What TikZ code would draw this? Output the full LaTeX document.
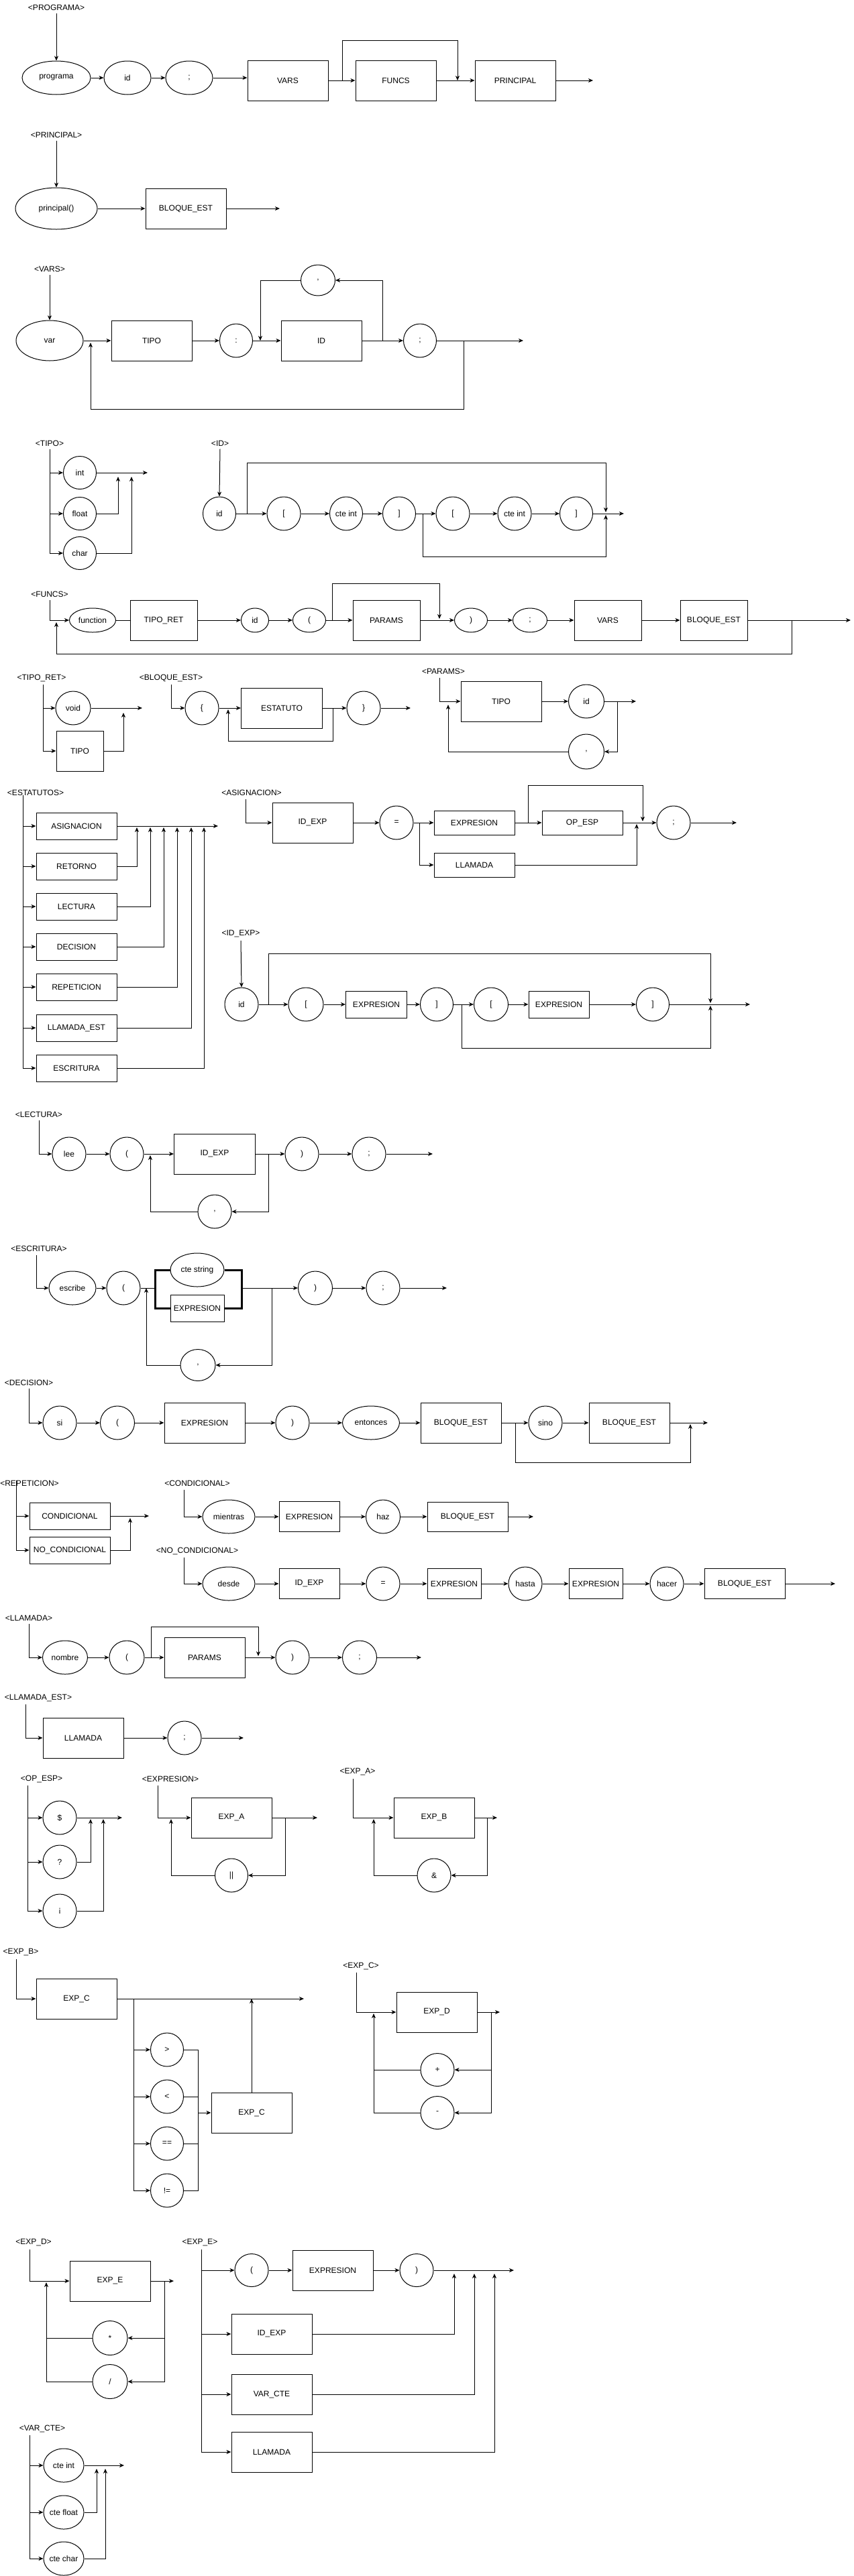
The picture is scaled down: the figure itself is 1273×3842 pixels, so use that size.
\documentclass[tikz,border=0pt]{standalone}
\usepackage{fontspec}
\setmainfont{Liberation Sans}
\usetikzlibrary{arrows.meta,shapes.geometric}
\begin{document}
\begin{tikzpicture}[x=1pt,y=-1pt,
  every node/.style={font=\fontsize{12}{14}\selectfont},
  line width=1pt,
  ell/.style={draw,ellipse,inner sep=-3pt,minimum width=50pt,minimum height=50pt},
  box/.style={draw,rectangle,inner sep=0pt,minimum width=120pt,minimum height=60pt},
  lbl/.style={inner xsep=0pt,inner ysep=4pt},
  arr/.style={-{Stealth[length=7pt,width=6pt,inset=2pt]}},
  brk/.style={line width=3pt}]
\fill[white] (0,0) rectangle (1273,3842);
\useasboundingbox (0,0) rectangle (1273,3842);

% ---------------- PROGRAMA
\node[lbl] (lProg) at (84,11) {<PROGRAMA>};
\node[ell,minimum width=102pt] (prog) at (84,116) {programa};
\node[ell,minimum width=70pt] (pid) at (190,116) {id};
\node[ell,minimum width=70pt] (psemi) at (282,116) {;};
\node[box] (pvars) at (429,120) {VARS};
\node[box] (pfuncs) at (590,120) {FUNCS};
\node[box] (pprin) at (768,120) {PRINCIPAL};
\coordinate (pend) at (884,120);
\coordinate (pb0) at (510,120);
\coordinate (pb1) at (682,120);
\draw[arr] (lProg.south) -- (prog.north);
\draw[arr] (prog) -- (pid);
\draw[arr] (pid) -- (psemi);
\draw[arr] (psemi.east) -- (pvars.west |- psemi.east);
\draw[arr] (pvars) -- (pfuncs);
\draw[arr] (pfuncs) -- (pprin);
\draw[arr] (pprin) -- (pend);
\draw[arr] (pb0) -- ++(0,-60) -| (pb1);

% ---------------- PRINCIPAL
\node[lbl] (lPrin) at (84,201) {<PRINCIPAL>};
\node[ell,minimum width=122pt,minimum height=62pt] (prn) at (84,311) {principal()};
\node[box] (prnb) at (277,311) {BLOQUE\_EST};
\coordinate (prnend) at (417,311);
\draw[arr] (lPrin.south) -- (prn.north);
\draw[arr] (prn) -- (prnb);
\draw[arr] (prnb) -- (prnend);

% ---------------- VARS
\node[lbl] (lVars) at (74,401) {<VARS>};
\node[ell,minimum width=100pt,minimum height=60pt] (vvar) at (74,508) {var};
\node[box] (vtipo) at (226,508) {TIPO};
\node[ell,minimum width=49pt] (vcolon) at (352,508) {:};
\node[box] (vid) at (479,508) {ID};
\node[ell,minimum width=49pt] (vsemi) at (626,508) {;};
\node[ell,minimum width=51pt,minimum height=46pt] (vcomma) at (474,418) {,};
\coordinate (vend) at (780,508);
\coordinate (vc1) at (570,508);
\coordinate (vc2) at (388,508);
\coordinate (vb1) at (691,508);
\coordinate (vb2) at (135,511);
\draw[arr] (lVars.south) -- (vvar.north);
\draw[arr] (vvar) -- (vtipo);
\draw[arr] (vtipo) -- (vcolon);
\draw[arr] (vcolon) -- (vid);
\draw[arr] (vid) -- (vsemi);
\draw[arr] (vsemi) -- (vend);
\draw[arr] (vc1) |- (vcomma.east);
\draw[arr] (vcomma.west) -| (vc2);
\draw[arr] (vb1) -- ++(0,102) -| (vb2);

% ---------------- TIPO
\node[lbl] (lTipo) at (74,661) {<TIPO>};
\node[ell,minimum width=49pt,minimum height=49pt] (tint) at (119,705) {int};
\node[ell,minimum width=49pt,minimum height=49pt] (tfloat) at (119,766) {float};
\node[ell,minimum width=49pt,minimum height=49pt] (tchar) at (119,825) {char};
\coordinate (tend) at (220,705);
\coordinate (tj1) at (176,711);
\coordinate (tj2) at (196,711);
\draw[arr] (lTipo.south) |- (tchar.west);
\draw[arr] (lTipo.south |- tint.west) -- (tint.west);
\draw[arr] (lTipo.south |- tfloat.west) -- (tfloat.west);
\draw[arr] (tint) -- (tend);
\draw[arr] (tfloat.east) -| (tj1);
\draw[arr] (tchar.east) -| (tj2);

% ---------------- ID
\node[lbl] (lId) at (328,661) {<ID>};
\node[ell,minimum width=49pt] (iid) at (327,766) {id};
\node[ell,minimum width=50pt] (ib1) at (423,766) {[};
\node[ell,minimum width=49pt] (ic1) at (516,766) {cte int};
\node[ell,minimum width=49pt] (ir1) at (595,766) {]};
\node[ell,minimum width=50pt] (ib2) at (675,766) {[};
\node[ell,minimum width=50pt] (ic2) at (767,766) {cte int};
\node[ell,minimum width=49pt] (ir2) at (859,766) {]};
\coordinate (iend) at (930,766);
\coordinate (ijt) at (903,764);
\coordinate (ijb) at (903,768);
\coordinate (it0) at (368,766);
\coordinate (ibt0) at (630,766);
\draw[arr] (lId.south) -- (iid.north);
\draw[arr] (iid) -- (ib1);
\draw[arr] (ib1) -- (ic1);
\draw[arr] (ic1) -- (ir1);
\draw[arr] (ir1) -- (ib2);
\draw[arr] (ib2) -- (ic2);
\draw[arr] (ic2) -- (ir2);
\draw[arr] (ir2) -- (iend);
\draw[arr] (it0) -- ++(0,-76) -| (ijt);
\draw[arr] (ibt0) -- ++(0,64) -| (ijb);

% ---------------- FUNCS
\node[lbl] (lFuncs) at (74,886) {<FUNCS>};
\node[ell,minimum width=69pt,minimum height=36pt] (ffun) at (138,925) {function};
\node[box,minimum width=100pt] (ftr) at (244,925) {TIPO\_RET};
\node[ell,minimum width=41pt,minimum height=36pt] (fid) at (380,925) {id};
\node[ell,minimum width=49pt,minimum height=36pt] (fop) at (461,925) {(};
\node[box,minimum width=100pt] (fpar) at (576,925) {PARAMS};
\node[ell,minimum width=49pt,minimum height=36pt] (fcp) at (702,925) {)};
\node[ell,minimum width=51pt,minimum height=36pt] (fsemi) at (790,925) {;};
\node[box,minimum width=100pt] (fvars) at (906,925) {VARS};
\node[box,minimum width=100pt] (fbloq) at (1064,925) {BLOQUE\_EST};
\coordinate (fend) at (1268,925);
\coordinate (fb0) at (495,925);
\coordinate (fb1) at (655,923);
\coordinate (fl0) at (1180,925);
\coordinate (fl1) at (84,928);
\draw[arr] (lFuncs.south) |- (ffun.west);
\draw (ffun) -- (ftr);
\draw[arr] (ftr) -- (fid);
\draw[arr] (fid) -- (fop);
\draw[arr] (fop) -- (fpar);
\draw[arr] (fpar) -- (fcp);
\draw[arr] (fcp) -- (fsemi);
\draw[arr] (fsemi) -- (fvars);
\draw[arr] (fvars) -- (fbloq);
\draw[arr] (fbloq) -- (fend);
\draw[arr] (fb0) -- ++(0,-55) -| (fb1);
\draw[arr] (fl0) -- ++(0,50) -| (fl1);

% ---------------- TIPO_RET
\node[lbl] (lTR) at (62,1011) {<TIPO\_RET>};
\node[ell,minimum width=52pt] (trvoid) at (109,1056) {void};
\node[box,minimum width=70pt] (trtipo) at (119,1120) {TIPO};
\coordinate (tr0) at (64,1021);
\coordinate (trend) at (212,1056);
\coordinate (trj) at (184,1063);
\draw[arr] (tr0) |- (trtipo.west);
\draw[arr] (tr0 |- trvoid.west) -- (trvoid.west);
\draw[arr] (trvoid) -- (trend);
\draw[arr] (trtipo.east) -| (trj);

% ---------------- BLOQUE_EST
\node[lbl] (lBE) at (255,1011) {<BLOQUE\_EST>};
\node[ell] (beo) at (301,1056) {\{};
\node[box,minimum width=121pt] (best) at (420,1056) {ESTATUTO};
\node[ell] (bec) at (542,1056) {\}};
\coordinate (beend) at (612,1056);
\coordinate (bel0) at (496,1056);
\coordinate (bel1) at (340,1058);
\draw[arr] (lBE.south) |- (beo.west);
\draw[arr] (beo) -- (best);
\draw[arr] (best) -- (bec);
\draw[arr] (bec) -- (beend);
\draw[arr] (bel0) -- ++(0,49) -| (bel1);

% ---------------- PARAMS
\node[lbl] (lPar) at (661,1001) {<PARAMS>};
\node[box] (ptipo) at (747,1046) {TIPO};
\node[ell,minimum width=53pt] (pid2) at (874,1046) {id};
\node[ell,minimum width=53pt,minimum height=52pt] (pcomma) at (874,1121) {,};
\coordinate (par0) at (655,1011);
\coordinate (pend2) at (948,1046);
\coordinate (pl0) at (920,1046);
\coordinate (pl1) at (668,1051);
\draw[arr] (par0) |- (ptipo.west);
\draw[arr] (ptipo) -- (pid2);
\draw[arr] (pid2) -- (pend2);
\draw[arr] (pl0) |- (pcomma.east);
\draw[arr] (pcomma.west) -| (pl1);

% ---------------- ESTATUTOS
\node[lbl] (lEst) at (53,1182) {<ESTATUTOS>};
\node[box,minimum height=40pt] (eAsig) at (114,1232) {ASIGNACION};
\node[box,minimum height=40pt] (eRet) at (114,1292) {RETORNO};
\node[box,minimum height=40pt] (eLec) at (114,1352) {LECTURA};
\node[box,minimum height=40pt] (eDec) at (114,1412) {DECISION};
\node[box,minimum height=40pt] (eRep) at (114,1472) {REPETICION};
\node[box,minimum height=40pt] (eLla) at (114,1533) {LLAMADA\_EST};
\node[box,minimum height=40pt] (eEsc) at (114,1593) {ESCRITURA};
\coordinate (es0) at (34,1186);
\coordinate (esend) at (325,1232);
\coordinate (er1) at (204,1234);
\coordinate (er2) at (224,1234);
\coordinate (er3) at (244,1234);
\coordinate (er4) at (264,1234);
\coordinate (er5) at (285,1234);
\coordinate (er6) at (304,1234);
\draw[arr] (es0) |- (eEsc.west);
\draw[arr] (es0 |- eAsig.west) -- (eAsig.west);
\draw[arr] (es0 |- eRet.west) -- (eRet.west);
\draw[arr] (es0 |- eLec.west) -- (eLec.west);
\draw[arr] (es0 |- eDec.west) -- (eDec.west);
\draw[arr] (es0 |- eRep.west) -- (eRep.west);
\draw[arr] (es0 |- eLla.west) -- (eLla.west);
\draw[arr] (eAsig) -- (esend);
\draw[arr] (eRet.east) -| (er1);
\draw[arr] (eLec.east) -| (er2);
\draw[arr] (eDec.east) -| (er3);
\draw[arr] (eRep.east) -| (er4);
\draw[arr] (eLla.east) -| (er5);
\draw[arr] (eEsc.east) -| (er6);

% ---------------- ASIGNACION
\node[lbl] (lAsig) at (375,1182) {<ASIGNACION>};
\node[box] (aidexp) at (466,1227) {ID\_EXP};
\node[ell] (aeq) at (591,1227) {=};
\node[box,minimum height=36pt] (aexp) at (707,1227) {EXPRESION};
\node[box,minimum height=36pt] (aop) at (868,1227) {OP\_ESP};
\node[ell] (asemi) at (1004,1227) {;};
\node[box,minimum height=36pt] (allam) at (707,1290) {LLAMADA};
\coordinate (as0) at (366,1192);
\coordinate (aend) at (1098,1227);
\coordinate (aj) at (625,1227);
\coordinate (ab0) at (787,1227);
\coordinate (ab1) at (958,1225);
\coordinate (al1) at (949,1229);
\draw[arr] (as0) |- (aidexp.west);
\draw[arr] (aidexp) -- (aeq);
\draw[arr] (aeq) -- (aexp);
\draw[arr] (aexp) -- (aop);
\draw[arr] (aop) -- (asemi);
\draw[arr] (asemi) -- (aend);
\draw[arr] (aj) |- (allam.west);
\draw[arr] (ab0) -- ++(0,-56) -| (ab1);
\draw[arr] (allam.east) -| (al1);

% ---------------- ID_EXP
\node[lbl] (lIdexp) at (359,1393) {<ID\_EXP>};
\node[ell] (xid) at (360,1498) {id};
\node[ell,minimum width=52pt] (xb1) at (456,1498) {[};
\node[box,minimum width=91pt,minimum height=40pt] (xe1) at (561,1498) {EXPRESION};
\node[ell,minimum width=49pt] (xr1) at (651,1498) {]};
\node[ell,minimum width=51pt] (xb2) at (732,1498) {[};
\node[box,minimum width=90pt,minimum height=40pt] (xe2) at (833,1498) {EXPRESION};
\node[ell,minimum width=49pt] (xr2) at (973,1498) {]};
\coordinate (xend) at (1118,1498);
\coordinate (xjt) at (1059,1496);
\coordinate (xjb) at (1059,1500);
\coordinate (xt0) at (400,1498);
\coordinate (xbt0) at (688,1498);
\draw[arr] (lIdexp.south) -- (xid.north);
\draw[arr] (xid) -- (xb1);
\draw[arr] (xb1) -- (xe1);
\draw[arr] (xe1) -- (xr1);
\draw[arr] (xr1) -- (xb2);
\draw[arr] (xb2) -- (xe2);
\draw[arr] (xe2) -- (xr2);
\draw[arr] (xr2) -- (xend);
\draw[arr] (xt0) -- ++(0,-76) -| (xjt);
\draw[arr] (xbt0) -- ++(0,65) -| (xjb);

% ---------------- LECTURA
\node[lbl] (lLec) at (58,1662) {<LECTURA>};
\node[ell] (llee) at (103,1721) {lee};
\node[ell] (lop) at (189,1721) {(};
\node[box,minimum width=121pt] (lid) at (320,1721) {ID\_EXP};
\node[ell] (lcp) at (450,1721) {)};
\node[ell] (lsemi) at (550,1721) {;};
\node[ell] (lcomma) at (320,1807) {,};
\coordinate (lend) at (645,1721);
\coordinate (ll0) at (400,1721);
\coordinate (ll1) at (224,1723);
\draw[arr] (lLec.south) |- (llee.west);
\draw[arr] (llee) -- (lop);
\draw[arr] (lop) -- (lid);
\draw[arr] (lid) -- (lcp);
\draw[arr] (lcp) -- (lsemi);
\draw[arr] (lsemi) -- (lend);
\draw[arr] (ll0) |- (lcomma.east);
\draw[arr] (lcomma.west) -| (ll1);

% ---------------- ESCRITURA
\node[lbl] (lEsc) at (58,1862) {<ESCRITURA>};
\node[ell,minimum width=70pt] (sesc) at (108,1921) {escribe};
\node[ell] (sop) at (184,1921) {(};
\node[ell,minimum width=80pt] (sstr) at (294,1894) {cte string};
\node[box,minimum width=80pt,minimum height=40pt] (sexp) at (294,1951) {EXPRESION};
\node[ell,minimum width=51pt] (scp) at (470,1921) {)};
\node[ell] (ssemi) at (571,1921) {;};
\node[ell,minimum width=52pt,minimum height=47pt] (scomma) at (295,2036) {,};
\coordinate (sc0) at (54,1872);
\coordinate (sbL) at (231,1921);
\coordinate (sbR) at (360,1921);
\coordinate (send) at (666,1921);
\coordinate (sl0) at (405,1921);
\coordinate (sl1) at (218,1921);
\draw[arr] (sc0) |- (sesc.west);
\draw[arr] (sesc) -- (sop);
\draw (sop) -- (sbL);
\draw[brk] (sstr.west) -| (sbL) |- (sexp.west);
\draw[brk] (sstr.east) -| (sbR) |- (sexp.east);
\draw[arr] (sbR) -- (scp);
\draw[arr] (scp) -- (ssemi);
\draw[arr] (ssemi) -- (send);
\draw[arr] (sl0) |- (scomma.east);
\draw[arr] (scomma.west) -| (sl1);

% ---------------- DECISION
\node[lbl] (lDec) at (43,2062) {<DECISION>};
\node[ell] (dsi) at (89,2122) {si};
\node[ell,minimum width=51pt] (dop) at (175,2122) {(};
\node[box] (dexp) at (305,2122) {EXPRESION};
\node[ell] (dcp) at (436,2122) {)};
\node[ell,minimum width=85pt] (dent) at (553,2122) {entonces};
\node[box] (db1) at (687,2122) {BLOQUE\_EST};
\node[ell] (dsino) at (813,2122) {sino};
\node[box] (db2) at (938,2122) {BLOQUE\_EST};
\coordinate (dend) at (1055,2122);
\coordinate (dj0) at (768,2122);
\coordinate (dj1) at (1029,2124);
\draw[arr] (lDec.south) |- (dsi.west);
\draw[arr] (dsi) -- (dop);
\draw[arr] (dop) -- (dexp);
\draw[arr] (dexp) -- (dcp);
\draw[arr] (dcp) -- (dent);
\draw[arr] (dent) -- (db1);
\draw[arr] (db1) -- (dsino);
\draw[arr] (dsino) -- (db2);
\draw[arr] (db2) -- (dend);
\draw[arr] (dj0) -- ++(0,59) -| (dj1);

% ---------------- REPETICION
\node[lbl] (lRep) at (44,2212) {<REPETICION>};
\node[box,minimum height=40pt] (rcond) at (104,2261) {CONDICIONAL};
\node[box,minimum height=40pt] (rnocond) at (104,2312) {NO\_CONDICIONAL};
\coordinate (rp0) at (24,2208);
\coordinate (rend) at (222,2261);
\coordinate (rj) at (194,2264);
\draw[arr] (rp0) |- (rnocond.west);
\draw[arr] (rp0 |- rcond.west) -- (rcond.west);
\draw[arr] (rcond) -- (rend);
\draw[arr] (rnocond.east) -| (rj);

% ---------------- CONDICIONAL
\node[lbl] (lCond) at (294,2212) {<CONDICIONAL>};
\node[ell,minimum width=78pt] (cmien) at (341,2262) {mientras};
\node[box,minimum width=90pt,minimum height=45pt] (cexp) at (461,2262) {EXPRESION};
\node[ell,minimum width=51pt] (chaz) at (571,2262) {haz};
\node[box,minimum height=44pt] (cbloq) at (697,2262) {BLOQUE\_EST};
\coordinate (cd0) at (274,2222);
\coordinate (cend) at (795,2262);
\draw[arr] (cd0) |- (cmien.west);
\draw[arr] (cmien) -- (cexp);
\draw[arr] (cexp) -- (chaz);
\draw[arr] (chaz) -- (cbloq);
\draw[arr] (cbloq) -- (cend);

% ---------------- NO_CONDICIONAL
\node[lbl] (lNC) at (294,2313) {<NO\_CONDICIONAL>};
\node[ell,minimum width=78pt] (ndesde) at (341,2362) {desde};
\node[box,minimum width=90pt,minimum height=45pt] (nid) at (461,2362) {ID\_EXP};
\node[ell] (neq) at (571,2362) {=};
\node[box,minimum width=80pt,minimum height=45pt] (nexp1) at (677,2362) {EXPRESION};
\node[ell] (nhasta) at (783,2362) {hasta};
\node[box,minimum width=80pt,minimum height=45pt] (nexp2) at (888,2362) {EXPRESION};
\node[ell] (nhacer) at (994,2362) {hacer};
\node[box,minimum height=45pt] (nbloq) at (1110,2362) {BLOQUE\_EST};
\coordinate (nc0) at (274,2323);
\coordinate (nend) at (1245,2362);
\draw[arr] (nc0) |- (ndesde.west);
\draw[arr] (ndesde) -- (nid);
\draw[arr] (nid) -- (neq);
\draw[arr] (neq) -- (nexp1);
\draw[arr] (nexp1) -- (nhasta);
\draw[arr] (nhasta) -- (nexp2);
\draw[arr] (nexp2) -- (nhacer);
\draw[arr] (nhacer) -- (nbloq);
\draw[arr] (nbloq) -- (nend);

% ---------------- LLAMADA
\node[lbl] (lLlam) at (43,2413) {<LLAMADA>};
\node[ell,minimum width=67pt] (mnom) at (97,2472) {nombre};
\node[ell,minimum width=52pt] (mop) at (189,2472) {(};
\node[box] (mpar) at (305,2472) {PARAMS};
\node[ell] (mcp) at (436,2472) {)};
\node[ell,minimum width=51pt] (msemi) at (536,2472) {;};
\coordinate (mend) at (628,2472);
\coordinate (mb0) at (225,2472);
\coordinate (mb1) at (385,2470);
\draw[arr] (lLlam.south) |- (mnom.west);
\draw[arr] (mnom) -- (mop);
\draw[arr] (mop) -- (mpar);
\draw[arr] (mpar) -- (mcp);
\draw[arr] (mcp) -- (msemi);
\draw[arr] (msemi) -- (mend);
\draw[arr] (mb0) -- ++(0,-46) -| (mb1);

% ---------------- LLAMADA_EST
\node[lbl] (lLE) at (57,2532) {<LLAMADA\_EST>};
\node[box] (ellam) at (124,2592) {LLAMADA};
\node[ell] (esemi) at (275,2592) {;};
\coordinate (le0) at (38,2542);
\coordinate (eend) at (363,2592);
\draw[arr] (le0) |- (ellam.west);
\draw[arr] (ellam) -- (esemi);
\draw[arr] (esemi) -- (eend);

% ---------------- OP_ESP
\node[lbl] (lOp) at (62,2653) {<OP\_ESP>};
\node[ell] (odol) at (89,2711) {\$};
\node[ell] (oq) at (89,2777) {?};
\node[ell] (oexcl) at (89,2850) {¡};
\coordinate (op0) at (41,2663);
\coordinate (oend) at (182,2711);
\coordinate (oj1) at (135,2713);
\coordinate (oj2) at (154,2713);
\draw[arr] (op0) |- (oexcl.west);
\draw[arr] (op0 |- odol.west) -- (odol.west);
\draw[arr] (op0 |- oq.west) -- (oq.west);
\draw[arr] (odol) -- (oend);
\draw[arr] (oq.east) -| (oj1);
\draw[arr] (oexcl.east) -| (oj2);

% ---------------- EXPRESION
\node[lbl] (lExpr) at (254,2653) {<EXPRESION>};
\node[box] (exa) at (345,2711) {EXP\_A};
\node[ell,minimum width=49pt] (exor) at (345,2797) {||};
\coordinate (ex0) at (235,2663);
\coordinate (exend) at (473,2711);
\coordinate (exl0) at (425,2711);
\coordinate (exl1) at (255,2713);
\draw[arr] (ex0) |- (exa.west);
\draw[arr] (exa) -- (exend);
\draw[arr] (exl0) |- (exor.east);
\draw[arr] (exor.west) -| (exl1);

% ---------------- EXP_A
\node[lbl] (lExa) at (533,2643) {<EXP\_A>};
\node[box] (eab) at (647,2711) {EXP\_B};
\node[ell] (eaand) at (647,2797) {\&};
\coordinate (ea0) at (526,2653);
\coordinate (eaend) at (741,2711);
\coordinate (eal0) at (726,2711);
\coordinate (eal1) at (557,2713);
\draw[arr] (ea0) |- (eab.west);
\draw[arr] (eab) -- (eaend);
\draw[arr] (eal0) |- (eaand.east);
\draw[arr] (eaand.west) -| (eal1);

% ---------------- EXP_B
\node[lbl] (lExb) at (31,2912) {<EXP\_B>};
\node[box] (ebc) at (114,2981) {EXP\_C};
\node[ell,minimum width=49pt] (ebgt) at (249,3057) {>};
\node[ell,minimum width=49pt] (eblt) at (249,3127) {<};
\node[ell,minimum width=49pt] (ebeq) at (249,3197) {==};
\node[ell,minimum width=49pt] (ebne) at (249,3267) {!=};
\node[box] (ebc2) at (375,3151) {EXP\_C};
\coordinate (eb0) at (24,2922);
\coordinate (ebend) at (453,2981);
\coordinate (ebj) at (199,2981);
\coordinate (ebrT) at (295,3057);
\coordinate (ebrB) at (295,3267);
\coordinate (ebup) at (375,2981);
\draw[arr] (eb0) |- (ebc.west);
\draw[arr] (ebc) -- (ebend);
\draw[arr] (ebj) |- (ebne.west);
\draw[arr] (ebj |- ebgt.west) -- (ebgt.west);
\draw[arr] (ebj |- eblt.west) -- (eblt.west);
\draw[arr] (ebj |- ebeq.west) -- (ebeq.west);
\draw (ebgt.east) -- (ebrT) -- (ebrB) -- (ebne.east);
\draw (eblt.east) -- (eblt.east -| ebrT);
\draw (ebeq.east) -- (ebeq.east -| ebrT);
\draw[arr] (ebrT |- ebc2.west) -- (ebc2.west);
\draw[arr] (ebc2.north) -- (ebup);

% ---------------- EXP_C
\node[lbl] (lExc) at (538,2932) {<EXP\_C>};
\node[box] (ecd) at (651,3001) {EXP\_D};
\node[ell,minimum height=49pt] (ecplus) at (652,3087) {+};
\node[ell,minimum height=49pt] (ecminus) at (652,3151) {-};
\coordinate (ec0) at (531,2942);
\coordinate (ecend) at (745,3001);
\coordinate (ecr) at (732,3001);
\coordinate (ecl) at (557,3003);
\draw[arr] (ec0) |- (ecd.west);
\draw[arr] (ecd) -- (ecend);
\draw[arr] (ecr) |- (ecminus.east);
\draw[arr] (ecr |- ecplus.east) -- (ecplus.east);
\draw[arr] (ecminus.west) -| (ecl);
\draw (ecplus.west) -- (ecplus.west -| ecl);

% ---------------- EXP_D
\node[lbl] (lExd) at (50,3345) {<EXP\_D>};
\node[box] (ede) at (164,3402) {EXP\_E};
\node[ell,minimum width=52pt,minimum height=51pt] (edmul) at (164,3487) {*};
\node[ell,minimum width=52pt,minimum height=51pt] (eddiv) at (164,3552) {/};
\coordinate (ed0) at (44,3355);
\coordinate (edend) at (259,3402);
\coordinate (edr) at (245,3402);
\coordinate (edl) at (69,3404);
\draw[arr] (ed0) |- (ede.west);
\draw[arr] (ede) -- (edend);
\draw[arr] (edr) |- (eddiv.east);
\draw[arr] (edr |- edmul.east) -- (edmul.east);
\draw[arr] (eddiv.west) -| (edl);
\draw (edmul.west) -- (edmul.west -| edl);

% ---------------- EXP_E
\node[lbl] (lExe) at (298,3345) {<EXP\_E>};
\node[ell,minimum height=49pt] (eeop) at (375,3386) {(};
\node[box] (eeexp) at (496,3386) {EXPRESION};
\node[ell,minimum height=49pt] (eecp) at (621,3386) {)};
\node[box] (eeid) at (405,3481) {ID\_EXP};
\node[box] (eevar) at (405,3571) {VAR\_CTE};
\node[box] (eellam) at (405,3657) {LLAMADA};
\coordinate (ee0) at (300,3355);
\coordinate (eeend) at (766,3386);
\coordinate (eer1) at (677,3391);
\coordinate (eer2) at (707,3391);
\coordinate (eer3) at (737,3391);
\draw[arr] (ee0) |- (eellam.west);
\draw[arr] (ee0 |- eeop.west) -- (eeop.west);
\draw[arr] (ee0 |- eeid.west) -- (eeid.west);
\draw[arr] (ee0 |- eevar.west) -- (eevar.west);
\draw[arr] (eeop) -- (eeexp);
\draw[arr] (eeexp) -- (eecp);
\draw[arr] (eecp) -- (eeend);
\draw[arr] (eeid.east) -| (eer1);
\draw[arr] (eevar.east) -| (eer2);
\draw[arr] (eellam.east) -| (eer3);

% ---------------- VAR_CTE
\node[lbl] (lVc) at (63,3622) {<VAR\_CTE>};
\node[ell,minimum width=60pt] (vcint) at (95,3677) {cte int};
\node[ell,minimum width=60pt] (vcfloat) at (95,3747) {cte float};
\node[ell,minimum width=60pt] (vcchar) at (95,3816) {cte char};
\coordinate (vc0) at (44,3632);
\coordinate (vcend) at (185,3677);
\coordinate (vcj1) at (144,3682);
\coordinate (vcj2) at (157,3682);
\draw[arr] (vc0) |- (vcchar.west);
\draw[arr] (vc0 |- vcint.west) -- (vcint.west);
\draw[arr] (vc0 |- vcfloat.west) -- (vcfloat.west);
\draw[arr] (vcint) -- (vcend);
\draw[arr] (vcfloat.east) -| (vcj1);
\draw[arr] (vcchar.east) -| (vcj2);
\end{tikzpicture}
\end{document}
